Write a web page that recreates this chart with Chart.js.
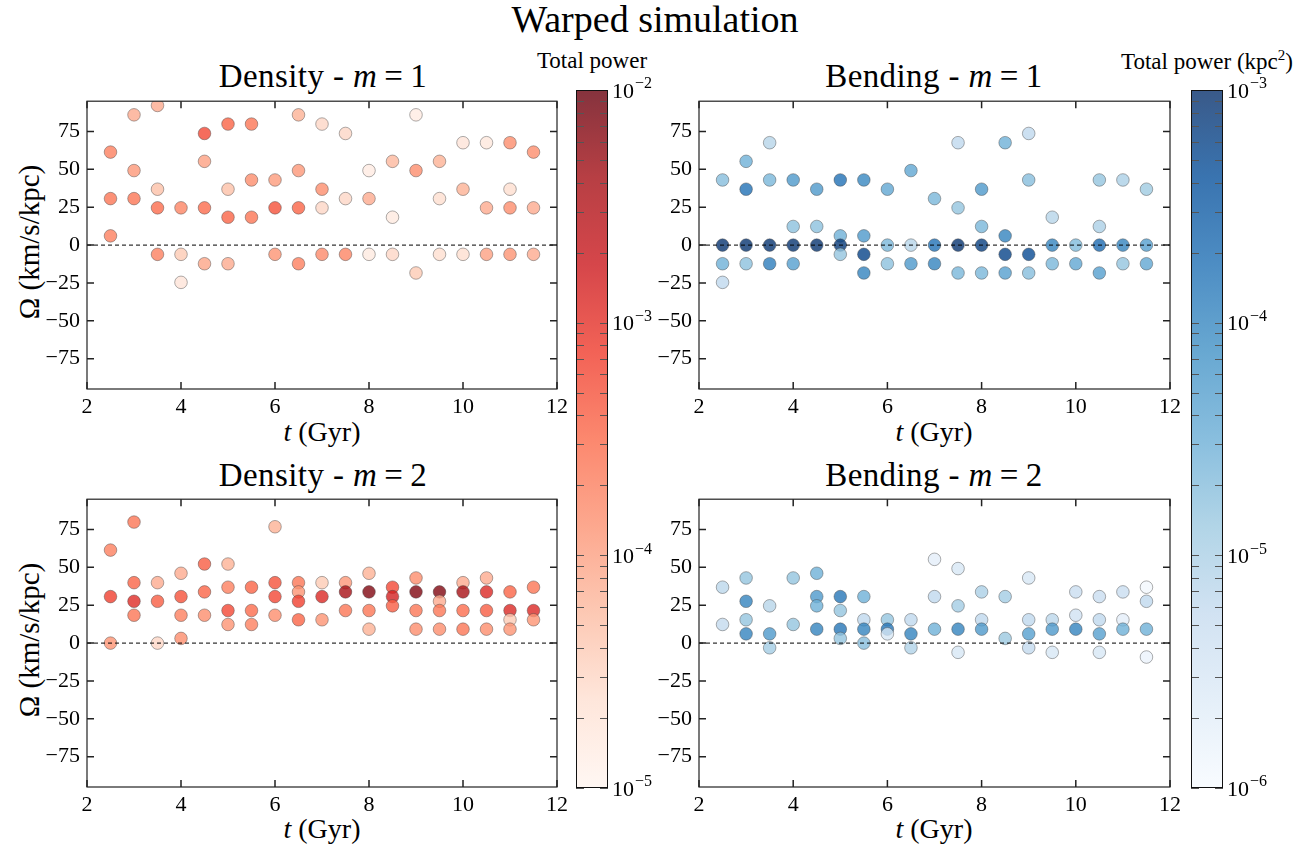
<!DOCTYPE html>
<html>
<head>
<meta charset="utf-8">
<script src="https://cdn.jsdelivr.net/npm/chart.js@4.4.1/dist/chart.umd.min.js"></script>
<style>
  body { margin: 0; background: #fff; }
  #fig { position: relative; width: 1311px; height: 849px; font-family: "Liberation Serif", "DejaVu Serif", serif; color: #000; }
  #fig canvas { position: absolute; }
  .txt { position: absolute; white-space: nowrap; transform: translate(-50%, -50%); }
  .rot { transform: translate(-50%, -50%) rotate(-90deg); }
  .ttl { font-size: 33px; letter-spacing: 0.4px; }
  .xl { font-size: 28px; }
</style>
</head>
<body>
<div id="fig">
  <div class="txt" style="left:655px;top:19px;font-size:38px;">Warped simulation</div>
  <div class="txt ttl" style="left:323px;top:76px;">Density - <i>m</i>&#8201;=&#8201;1</div>
  <div class="txt ttl" style="left:934px;top:76px;">Bending - <i>m</i>&#8201;=&#8201;1</div>
  <div class="txt ttl" style="left:323px;top:475px;">Density - <i>m</i>&#8201;=&#8201;2</div>
  <div class="txt ttl" style="left:934px;top:475px;">Bending - <i>m</i>&#8201;=&#8201;2</div>
  <div class="txt xl" style="left:322px;top:432px;"><i>t</i> (Gyr)</div>
  <div class="txt xl" style="left:934px;top:432px;"><i>t</i> (Gyr)</div>
  <div class="txt xl" style="left:322px;top:829px;"><i>t</i> (Gyr)</div>
  <div class="txt xl" style="left:934px;top:829px;"><i>t</i> (Gyr)</div>
  <div class="txt rot xl" style="left:29px;top:242px;font-size:29px;">Ω (km/s/kpc)</div>
  <div class="txt rot xl" style="left:29px;top:640px;font-size:29px;">Ω (km/s/kpc)</div>
  <div class="txt" style="left:592px;top:61px;font-size:23px;">Total power</div>
  <div class="txt" style="left:1207px;top:61px;font-size:23px;">Total power (kpc<sup style="font-size:15px;">2</sup>)</div>
</div>
<script>
// axis ticks
var xTicks = [2, 4, 6, 8, 10, 12];
var yTicks = [-75, -50, -25, 0, 25, 50, 75];

// Density - m = 1
var densM1T = [2.5,2.5,2.5, 3,3,3, 3.5,3.5,3.5,3.5, 4,4,4, 4.5,4.5,4.5,4.5, 5,5,5,5, 5.5,5.5,5.5, 6,6,6,
  6.5,6.5,6.5,6.5, 7,7,7,7, 7.5,7.5,7.5, 8,8,8, 8.5,8.5,8.5, 9,9,9, 9.5,9.5,9.5, 10,10,10,
  10.5,10.5,10.5, 11,11,11,11, 11.5,11.5,11.5];
var densM1Omega = [61.4,30.7,6.1, 86.0,49.2,30.7, 92.2,36.9,24.6,-6.1, 24.6,-6.1,-24.6, 73.7,55.3,24.6,-12.3,
  79.9,36.9,18.4,-12.3, 79.9,43.0,18.4, 43.0,24.6,-6.1, 86.0,49.2,24.6,-12.3, 79.9,36.9,24.6,-6.1,
  73.7,30.7,-6.1, 49.2,30.7,-6.1, 55.3,18.4,-6.1, 86.0,49.2,-18.4, 55.3,30.7,-6.1, 67.6,36.9,-6.1,
  67.6,24.6,-6.1, 67.6,36.9,24.6,-6.1, 61.4,24.6,-6.1];
var densM1Power = [2e-4,2.5e-4,2e-4, 8e-5,1.2e-4,2.5e-4, 8e-5,5e-5,3e-4,2e-4, 1.8e-4,4e-5,2e-5, 6e-4,1e-4,3e-4,9e-5,
  3.5e-4,5e-5,3.5e-4,8e-5, 2.5e-4,1.5e-4,2.5e-4, 1.1e-4,5e-4,1.3e-4, 7e-5,1.2e-4,3.5e-4,2e-4, 3e-5,1.5e-4,3e-5,1.6e-4,
  3e-5,3e-5,1.8e-4, 1.5e-5,8e-5,1.6e-5, 6e-5,1.6e-5,3e-5, 1.5e-5,1.5e-4,4e-5, 7e-5,2.5e-5,2.5e-5, 2e-5,7e-5,2.5e-5,
  1.8e-5,8e-5,1e-4, 1.5e-4,2.5e-5,1.5e-4,1.3e-4, 1.5e-4,8e-5,8e-5];

// Bending - m = 1
var bendM1T = [2.5,2.5,2.5,2.5, 3,3,3,3, 3.5,3.5,3.5,3.5, 4,4,4,4, 4.5,4.5,4.5, 5,5,5,5, 5.5,5.5,5.5,5.5,
  6,6,6, 6.5,6.5,6.5, 7,7,7, 7.5,7.5,7.5,7.5, 8,8,8,8, 8.5,8.5,8.5,8.5, 9,9,9,9, 9.5,9.5,9.5,
  10,10, 10.5,10.5,10.5,10.5, 11,11,11, 11.5,11.5,11.5];
var bendM1Omega = [43.0,0,-12.3,-24.6, 55.3,36.9,0,-12.3, 67.6,43.0,0,-12.3, 43.0,12.3,0,-12.3, 36.9,12.3,0,
  43.0,6.1,0,-6.1, 43.0,6.1,-6.1,-18.4, 36.9,0,-12.3, 49.2,0,-12.3, 30.7,0,-12.3, 67.6,24.6,0,-18.4,
  36.9,12.3,0,-18.4, 67.6,6.1,-6.1,-18.4, 73.7,43.0,-6.1,-18.4, 18.4,0,-12.3, 0,-12.3,
  43.0,12.3,0,-18.4, 43.0,0,-12.3, 36.9,0,-12.3];
var bendM1Power = [2e-5,9e-4,3e-5,6.5e-6, 3e-5,1.8e-4,9e-4,1.8e-5, 8e-6,2.5e-5,9e-4,1.3e-4, 6e-5,1.8e-5,9e-4,5e-5,
  6e-5,1.8e-5,9e-4, 1.8e-4,3e-5,8e-4,1.6e-5, 1e-4,6e-5,6e-4,1.1e-4, 4e-5,2.5e-5,1.8e-5, 4e-5,8e-6,6e-5,
  2.5e-5,1.8e-4,1.1e-4, 6.5e-6,1.6e-5,9e-4,2.5e-5, 6e-5,2.5e-5,7e-4,2.5e-5, 3e-5,1.1e-4,6e-4,5e-5,
  6.5e-6,2e-5,5e-4,2e-5, 8e-6,1.1e-4,2.5e-5, 2.2e-5,4e-5, 1.6e-5,1e-5,2.2e-4,5e-5, 1e-5,1.1e-4,1.6e-5,
  1.3e-5,5e-5,4e-5];

// Density - m = 2
var densM2T = [2.5,2.5,2.5, 3,3,3,3, 3.5,3.5,3.5, 4,4,4,4, 4.5,4.5,4.5, 5,5,5,5, 5.5,5.5,5.5, 6,6,6,6,
  6.5,6.5,6.5,6.5, 7,7,7, 7.5,7.5,7.5, 8,8,8,8, 8.5,8.5,8.5, 9,9,9,9, 9.5,9.5,9.5,9.5,
  10,10,10,10, 10.5,10.5,10.5,10.5, 11,11,11,11, 11.5,11.5,11.5];
var densM2Omega = [61.4,30.7,0, 79.9,39.9,27.6,18.4, 39.9,27.6,0, 46.1,30.7,18.4,3.1, 52.2,33.8,18.4,
  52.2,36.9,21.5,12.3, 36.9,21.5,12.3, 76.8,39.9,30.7,18.4, 39.9,33.8,27.6,15.4, 39.9,30.7,15.4,
  39.9,33.8,21.5, 46.1,33.8,21.5,9.2, 36.9,30.7,24.6, 43.0,33.8,21.5,9.2, 33.8,27.6,21.5,9.2,
  39.9,33.8,21.5,9.2, 43.0,33.8,21.5,9.2, 33.8,21.5,15.4,9.2, 36.9,21.5,15.4];
var densM2Power = [2e-4,7e-4,1.3e-4, 2.5e-4,3.5e-4,1.1e-3,2.5e-4, 8e-5,4e-4,3e-5, 8e-5,5e-4,2e-4,1.5e-4,
  4e-4,3.5e-4,1.5e-4, 7e-5,2e-4,6e-4,1.3e-4, 3.5e-4,3e-4,2e-4, 7e-5,5e-4,6e-4,1.5e-4, 2.5e-4,1.3e-4,7e-4,3.5e-4,
  4e-5,1.2e-3,1.3e-4, 1.2e-4,4e-3,2.5e-4, 7e-5,7e-3,2.5e-4,7e-5, 6e-4,1.5e-3,4e-4, 1.5e-4,7e-3,2.5e-4,1.5e-4,
  7e-3,8e-5,2.5e-4,1.5e-4, 8e-5,4e-3,3e-4,2.5e-4, 8e-5,1.2e-3,4e-4,1.5e-4, 3.5e-4,1.2e-3,4e-5,1.3e-4,
  2.5e-4,1.2e-3,1.3e-4];

// Bending - m = 2
var bendM2T = [2.5,2.5, 3,3,3,3, 3.5,3.5,3.5, 4,4, 4.5,4.5,4.5,4.5, 5,5,5,5, 5.5,5.5,5.5,5.5, 6,6,6,
  6.5,6.5,6.5, 7,7,7, 7.5,7.5,7.5,7.5, 8,8,8, 8.5,8.5, 9,9,9,9, 9.5,9.5,9.5, 10,10,10,
  10.5,10.5,10.5,10.5, 11,11,11, 11.5,11.5,11.5,11.5];
var bendM2Omega = [36.9,12.3, 43.0,27.6,15.4,6.1, 24.6,6.1,-3.1, 43.0,12.3, 46.1,30.7,24.6,9.2,
  30.7,21.5,9.2,3.1, 30.7,15.4,9.2,0, 15.4,9.2,6.1, 15.4,6.1,-3.1, 55.3,30.7,9.2, 49.2,24.6,9.2,-6.1,
  33.8,15.4,9.2, 30.7,3.1, 43.0,15.4,6.1,-3.1, 15.4,9.2,-6.1, 33.8,18.4,9.2, 30.7,15.4,6.1,-6.1,
  33.8,15.4,9.2, 36.9,27.6,9.2,-9.2];
var bendM2Power = [7e-6,6e-6, 1.6e-5,1.1e-4,1.6e-5,1.1e-4, 8e-6,6e-5,1.2e-5, 1.6e-5,1.6e-5, 3e-5,6e-5,3e-5,1.1e-4,
  1.6e-4,1.6e-5,1.6e-4,1.6e-5, 3e-5,6.5e-6,1.1e-4,2e-5, 1.6e-5,1.6e-4,3e-6, 6.5e-6,1.1e-4,9e-6, 2e-6,6.5e-6,3e-5,
  3e-6,1.2e-5,1.1e-4,3e-6, 1e-5,6.5e-6,6e-5, 1.2e-5,1.4e-5, 3e-6,6.5e-6,5e-5,6e-6, 7e-6,6e-5,3e-6,
  5e-6,4e-6,1.1e-4, 5e-6,6.5e-6,5e-5,3e-6, 5e-6,2e-6,3e-5, 1.2e-6,6.5e-6,3e-5,1.5e-6];

// colour bar limits and ticks
var redRange = [1e-5, 1e-2];
var blueRange = [1e-6, 1e-3];
var redMajor = [1e-5, 1e-4, 1e-3, 1e-2];
var blueMajor = [1e-6, 1e-5, 1e-4, 1e-3];

// matplotlib Reds / Blues
var REDS = ['#fff5f0', '#fee0d2', '#fcbba1', '#fc9272', '#fb6a4a', '#ef3b2c', '#cb181d', '#a50f15', '#67000d'];
var BLUES = ['#f7fbff', '#deebf7', '#c6dbef', '#9ecae1', '#6baed6', '#4292c6', '#2171b5', '#08519c', '#08306b'];
var ALPHA = 0.8;

function hexRgb(h) {
  return [parseInt(h.substr(1, 2), 16), parseInt(h.substr(3, 2), 16), parseInt(h.substr(5, 2), 16)];
}

function cmap(stops, range, v) {
  var lo = Math.log10(range[0]), hi = Math.log10(range[1]);
  var f = (Math.log10(v) - lo) / (hi - lo);
  f = Math.min(1, Math.max(0, f)) * (stops.length - 1);
  var i = Math.min(stops.length - 2, Math.floor(f));
  var a = hexRgb(stops[i]), b = hexRgb(stops[i + 1]), u = f - i;
  var c = a.map(function (x, k) { return Math.round(x + (b[k] - x) * u); });
  return 'rgba(' + c.join(',') + ',' + ALPHA + ')';
}

var FONT = '"Liberation Serif", "DejaVu Serif", serif';

// dashed zero line, frame and inward ticks
var axesDeco = {
  id: 'axesDeco',
  afterDatasetsDraw: function (chart) {
    var ctx = chart.ctx, a = chart.chartArea, x = chart.scales.x, y = chart.scales.y;
    ctx.save();
    var y0 = y.getPixelForValue(0);
    ctx.strokeStyle = '#000';
    ctx.lineWidth = 1;
    ctx.setLineDash([4, 3]);
    ctx.beginPath();
    ctx.moveTo(a.left, y0);
    ctx.lineTo(a.right, y0);
    ctx.stroke();
    ctx.setLineDash([]);
    ctx.strokeStyle = '#222';
    ctx.lineWidth = 1.2;
    ctx.strokeRect(a.left, a.top, a.right - a.left, a.bottom - a.top);
    ctx.lineWidth = 1.5;
    ctx.beginPath();
    x.ticks.forEach(function (t) {
      var px = x.getPixelForValue(t.value);
      ctx.moveTo(px, a.bottom); ctx.lineTo(px, a.bottom - 7);
      ctx.moveTo(px, a.top); ctx.lineTo(px, a.top + 7);
    });
    y.ticks.forEach(function (t) {
      var py = y.getPixelForValue(t.value);
      ctx.moveTo(a.left, py); ctx.lineTo(a.left + 7, py);
      ctx.moveTo(a.right, py); ctx.lineTo(a.right - 7, py);
    });
    ctx.stroke();
    ctx.restore();
  }
};

function makeCanvas(left, top, w, h) {
  var c = document.createElement('canvas');
  c.width = w; c.height = h;
  c.style.left = left + 'px'; c.style.top = top + 'px';
  c.style.width = w + 'px'; c.style.height = h + 'px';
  document.getElementById('fig').appendChild(c);
  return c.getContext('2d');
}

// plot area: left, top, width, height in page pixels
function panel(area, times, omega, power, stops, range) {
  var padT = 15, padR = 20, yW = 60, xH = 32;
  var ctx = makeCanvas(area[0] - yW, area[1] - padT, area[2] + yW + padR, area[3] + padT + xH);
  var pts = times.map(function (t, i) { return { x: t, y: omega[i] }; });
  var cols = power.map(function (p) { return cmap(stops, range, p); });
  new Chart(ctx, {
    type: 'scatter',
    data: {
      datasets: [{
        data: pts,
        pointBackgroundColor: cols,
        pointBorderColor: 'rgba(70,70,70,0.55)',
        pointBorderWidth: 0.8,
        pointRadius: 6.3,
        pointHoverRadius: 6.3
      }]
    },
    options: {
      responsive: false,
      animation: false,
      events: [],
      layout: { padding: { top: padT, right: padR, left: 0, bottom: 0 } },
      plugins: { legend: { display: false }, tooltip: { enabled: false } },
      scales: {
        x: {
          type: 'linear', min: 2, max: 12,
          afterBuildTicks: function (s) { s.ticks = xTicks.map(function (v) { return { value: v }; }); },
          afterFit: function (s) { s.height = xH; },
          grid: { display: false, drawTicks: false },
          border: { display: false },
          ticks: { color: '#000', padding: 5, font: { family: FONT, size: 22 } }
        },
        y: {
          type: 'linear', min: -95, max: 95,
          afterBuildTicks: function (s) { s.ticks = yTicks.map(function (v) { return { value: v }; }); },
          afterFit: function (s) { s.width = yW; },
          grid: { display: false, drawTicks: false },
          border: { display: false },
          ticks: {
            color: '#000', padding: 7, font: { family: FONT, size: 22 },
            callback: function (v) { return v < 0 ? '\u2212' + Math.abs(v) : String(v); }
          }
        }
      }
    },
    plugins: [axesDeco]
  });
}

// colour bar: one floating bar on a log axis, filled with the colormap
function colorbar(area, stops, range, major) {
  var pad = { top: 15, bottom: 15, left: 5, right: 70 };
  var ctx = makeCanvas(area[0] - pad.left, area[1] - pad.top, area[2] + pad.left + pad.right, area[3] + pad.top + pad.bottom);
  var minor = [];
  major.slice(0, -1).forEach(function (m) { for (var k = 2; k < 10; k++) minor.push(m * k); });
  var deco = {
    id: 'cbDeco',
    afterDraw: function (chart) {
      var c = chart.ctx, a = chart.chartArea, y = chart.scales.y;
      c.save();
      c.strokeStyle = '#555';
      c.lineWidth = 1;
      c.beginPath();
      minor.concat(major).forEach(function (v) {
        var py = Math.round(y.getPixelForValue(v)) + 0.5;
        c.moveTo(a.left, py); c.lineTo(a.left + 8, py);
        c.moveTo(a.right, py); c.lineTo(a.right - 8, py);
      });
      c.stroke();
      c.strokeStyle = '#111';
      c.strokeRect(a.left + 0.5, a.top + 0.5, a.right - a.left - 1, a.bottom - a.top - 1);
      c.fillStyle = '#000';
      c.textBaseline = 'middle';
      c.textAlign = 'left';
      major.forEach(function (v) {
        var py = y.getPixelForValue(v);
        c.font = '22px ' + FONT;
        c.fillText('10', a.right + 4, py + 2);
        var w = c.measureText('10').width;
        c.font = '16px ' + FONT;
        c.fillText('\u2212' + Math.round(-Math.log10(v)), a.right + 4 + w + 1, py - 6);
      });
      c.restore();
    }
  };
  new Chart(ctx, {
    type: 'bar',
    data: {
      labels: ['power'],
      datasets: [{
        data: [[range[0], range[1]]],
        borderWidth: 0,
        barPercentage: 1,
        categoryPercentage: 1,
        backgroundColor: function (cx) {
          var a = cx.chart.chartArea;
          if (!a) return null;
          var g = cx.chart.ctx.createLinearGradient(0, a.bottom, 0, a.top);
          stops.forEach(function (s, i) {
            var rgb = hexRgb(s);
            g.addColorStop(i / (stops.length - 1), 'rgba(' + rgb.join(',') + ',' + ALPHA + ')');
          });
          return g;
        }
      }]
    },
    options: {
      responsive: false,
      animation: false,
      events: [],
      layout: { padding: pad },
      plugins: { legend: { display: false }, tooltip: { enabled: false } },
      scales: {
        x: { display: false },
        y: { type: 'logarithmic', display: false, min: range[0], max: range[1] }
      }
    },
    plugins: [deco]
  });
}

panel([87, 96, 470, 293], densM1T, densM1Omega, densM1Power, REDS, redRange);
panel([699, 96, 471, 293], bendM1T, bendM1Omega, bendM1Power, BLUES, blueRange);
panel([87, 494, 470, 293], densM2T, densM2Omega, densM2Power, REDS, redRange);
panel([699, 494, 471, 293], bendM2T, bendM2Omega, bendM2Power, BLUES, blueRange);
colorbar([576, 90, 32, 698], REDS, redRange, redMajor);
colorbar([1191, 90, 32, 698], BLUES, blueRange, blueMajor);
</script>
</body>
</html>
